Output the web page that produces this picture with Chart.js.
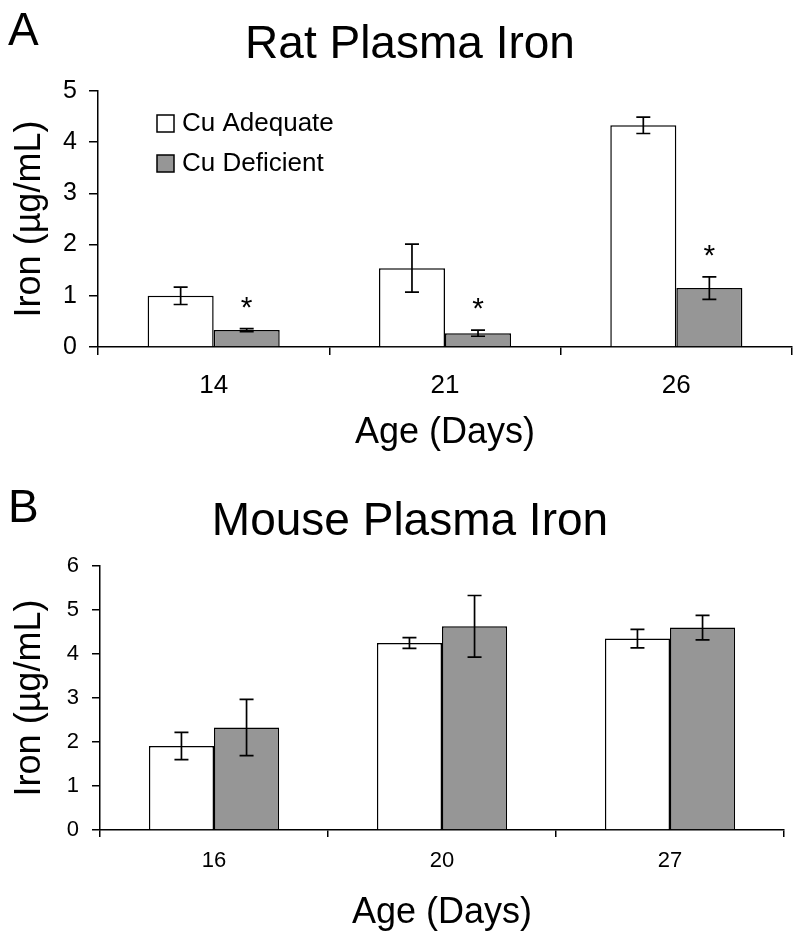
<!DOCTYPE html>
<html>
<head>
<meta charset="utf-8">
<script src="https://cdn.jsdelivr.net/npm/chart.js@4"></script>
<style>
body{margin:0;background:#fff}
canvas{display:block}
</style>
</head>
<body>
<canvas id="ratChart" width="800" height="465"></canvas>
<canvas id="mouseChart" width="800" height="472"></canvas>
<script>
const seriesNames = ["Cu Adequate", "Cu Deficient"];
const seriesColors = ["#ffffff", "#969696"];

const ratAges = ["14", "21", "26"];
const ratAdequate = [1.0, 1.54, 4.33];
const ratAdequateErr = [0.17, 0.47, 0.16];
const ratDeficient = [0.33, 0.27, 1.15];
const ratDeficientErr = [0.03, 0.06, 0.22];
const ratStars = ["*", "*", "*"];

const mouseAges = ["16", "20", "27"];
const mouseAdequate = [1.91, 4.25, 4.35];
const mouseAdequateErr = [0.31, 0.12, 0.21];
const mouseDeficient = [2.33, 4.63, 4.60];
const mouseDeficientErr = [0.64, 0.70, 0.28];

Chart.defaults.font.family = "'Liberation Sans', Arial, sans-serif";
Chart.defaults.color = "#000";

// error bars + significance stars on top of the bars
const errorBars = {
  id: "errorBars",
  afterDatasetsDraw(chart) {
    const ctx = chart.ctx;
    const y = chart.scales.y;
    chart.data.datasets.forEach((ds, i) => {
      const meta = chart.getDatasetMeta(i);
      meta.data.forEach((bar, j) => {
        const v = ds.data[j], e = ds.errors[j];
        const top = y.getPixelForValue(v + e);
        const bot = y.getPixelForValue(v - e);
        ctx.save();
        ctx.strokeStyle = "#000";
        ctx.lineWidth = 1.7;
        ctx.beginPath();
        ctx.moveTo(bar.x, top); ctx.lineTo(bar.x, bot);
        ctx.moveTo(bar.x - 7, top); ctx.lineTo(bar.x + 7, top);
        ctx.moveTo(bar.x - 7, bot); ctx.lineTo(bar.x + 7, bot);
        ctx.stroke();
        if (ds.stars && ds.stars[j]) {
          ctx.fillStyle = "#000";
          ctx.font = "30px 'Liberation Sans', Arial";
          ctx.textAlign = "center";
          ctx.textBaseline = "alphabetic";
          ctx.fillText(ds.stars[j], bar.x, top - 12);
        }
        ctx.restore();
      });
    });
  }
};

// panel letter, title and (panel A) legend
const panelText = {
  id: "panelText",
  afterDraw(chart, args, opts) {
    const ctx = chart.ctx;
    ctx.save();
    ctx.fillStyle = "#000";
    ctx.font = "46px 'Liberation Sans', Arial";
    ctx.textBaseline = "alphabetic";
    ctx.textAlign = "left";
    ctx.fillText(opts.letter, 8, opts.letterY);
    ctx.textAlign = "center";
    ctx.fillText(opts.title, 410, opts.titleY);
    if (opts.legend) {
      ctx.font = "26px 'Liberation Sans', Arial";
      ctx.textAlign = "left";
      ctx.lineWidth = 1.5;
      ctx.strokeStyle = "#000";
      chart.data.datasets.forEach((ds, i) => {
        const by = 115 + i * 40;
        ctx.fillStyle = ds.backgroundColor;
        ctx.fillRect(157, by, 17, 17);
        ctx.strokeRect(157, by, 17, 17);
        ctx.fillStyle = "#000";
        ctx.fillText(ds.label, 182, by + 16);
      });
    }
    ctx.restore();
  }
};

function makeChart(id, ages, adequate, adequateErr, deficient, deficientErr, stars, lay) {
  new Chart(document.getElementById(id), {
    type: "bar",
    data: {
      labels: ages,
      datasets: [
        {label: seriesNames[0], data: adequate, errors: adequateErr, backgroundColor: seriesColors[0],
         borderColor: "#000", borderWidth: 1.5, categoryPercentage: 0.571, barPercentage: 1},
        {label: seriesNames[1], data: deficient, errors: deficientErr, stars: stars, backgroundColor: seriesColors[1],
         borderColor: "#000", borderWidth: 1.5, categoryPercentage: 0.571, barPercentage: 1}
      ]
    },
    options: {
      responsive: false,
      animation: false,
      layout: {padding: {top: lay.top, right: lay.right, bottom: lay.bottom, left: 0}},
      plugins: {
        legend: {display: false},
        tooltip: {enabled: false},
        panelText: {letter: lay.letter, title: lay.title, letterY: lay.letterY, titleY: lay.titleY, legend: lay.legend}
      },
      scales: {
        x: {
          grid: {drawOnChartArea: false, offset: true, tickLength: lay.xTick, color: "#000", lineWidth: 1.5},
          border: {color: "#000", width: 1.5},
          ticks: {font: {size: lay.xFont}, padding: lay.xPad, color: "#000"},
          title: {display: true, text: "Age (Days)", font: {size: 36}, color: "#000", padding: 0},
          afterFit: s => { s.height = lay.xHeight; }
        },
        y: {
          min: 0, max: lay.yMax,
          grid: {drawOnChartArea: false, tickLength: lay.yTick, color: "#000", lineWidth: 1.5},
          border: {color: "#000", width: 1.5},
          ticks: {stepSize: 1, font: {size: lay.yFont}, padding: lay.yPad, color: "#000"},
          title: {display: true, text: "Iron (µg/mL)", font: {size: 36}, color: "#000", padding: {top: 8, bottom: 0}},
          afterFit: s => { s.width = lay.yWidth; }
        }
      }
    },
    plugins: [errorBars, panelText]
  });
}

makeChart("ratChart", ratAges, ratAdequate, ratAdequateErr, ratDeficient, ratDeficientErr, ratStars, {
  top: 91, right: 8, bottom: 10, xHeight: 108, yWidth: 98, yMax: 5,
  xTick: 8, xFont: 26, xPad: 15, yTick: 9, yFont: 25, yPad: 12,
  letter: "A", title: "Rat Plasma Iron", letterY: 45, titleY: 58, legend: true
});

makeChart("mouseChart", mouseAges, mouseAdequate, mouseAdequateErr, mouseDeficient, mouseDeficientErr, null, {
  top: 101, right: 16, bottom: 2, xHeight: 105, yWidth: 100, yMax: 6,
  xTick: 7, xFont: 22, xPad: 11, yTick: 8, yFont: 22, yPad: 13,
  letter: "B", title: "Mouse Plasma Iron", letterY: 57, titleY: 70, legend: false
});
</script>
</body>
</html>
